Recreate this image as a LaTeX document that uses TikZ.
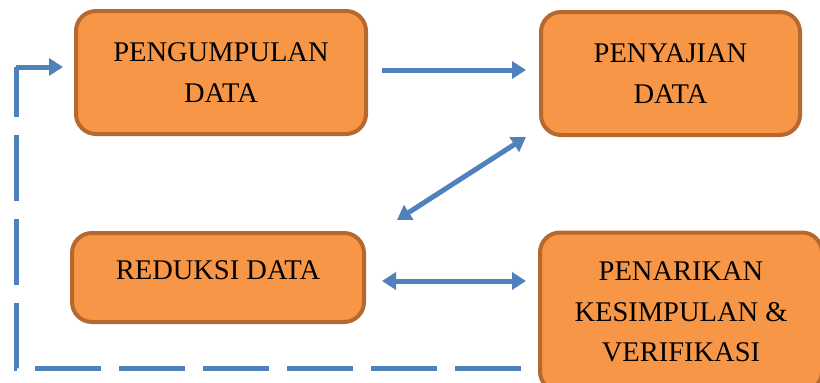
\documentclass[tikz,border=0pt]{standalone}
\usepackage{fontspec}
\setmainfont{Liberation Serif}
\usepackage{tikz}
\usetikzlibrary{arrows.meta,positioning,calc}
\definecolor{tangerine}{HTML}{F79646}
\definecolor{rust}{HTML}{B5692E}
\definecolor{steel}{HTML}{4F81BD}
\tikzset{
  stagebox/.style={
    rectangle, rounded corners=20pt, draw=rust, fill=tangerine, line width=4pt,
    font=\fontsize{28.5}{40.5}\selectfont, align=center,
    inner sep=0pt
  },
  flowarrow/.style={
    -{Triangle[length=14pt,width=17pt]}, line width=5pt, color=steel
  },
  twoway/.style={
    {Triangle[length=14pt,width=17pt]}-{Triangle[length=14pt,width=17pt]},
    line width=5pt, color=steel
  },
  loopline/.style={line width=5pt, color=steel, dash pattern=on 66pt off 18pt},
}
\begin{document}
\begin{tikzpicture}[x=1pt, y=-1pt]
  \useasboundingbox (0,0) rectangle (820,383);
  % feedback loop behind the boxes
  \coordinate (loopstart) at (521,368);
  \coordinate (loopcorner) at (16,67);
  \draw[loopline] (loopstart) -| (loopcorner);
  \node[stagebox, minimum width=290pt, minimum height=123pt] (kumpul) at (221,72.5) {PENGUMPULAN\\DATA};
  \node[stagebox, minimum width=259pt, minimum height=123pt] (saji) at (670.5,73.5) {PENYAJIAN\\DATA};
  \node[stagebox, minimum width=292pt, minimum height=89pt, text depth=14pt] (reduksi) at (218,277.5) {REDUKSI DATA};
  \node[stagebox, minimum width=282pt, minimum height=159pt] (tarik) at (681,312) {PENARIKAN\\KESIMPULAN \&\\VERIFIKASI};
  \draw[flowarrow] (loopcorner) -- ($(kumpul.west)+(-11,-5.5)$);
  \draw[flowarrow, shorten <=14pt, shorten >=13pt] ($(kumpul.east)+(0,-2.5)$) -- ($(saji.west)+(0,-3.5)$);
  \draw[twoway] ($(reduksi.north east)+(31,-11)$) -- ($(saji.south west)+(-13,0)$);
  \draw[twoway, shorten <=16pt, shorten >=12pt] ($(reduksi.east)+(0,3.5)$) -- ($(reduksi.east -| tarik.west)+(0,3.5)$);
\end{tikzpicture}
\end{document}
